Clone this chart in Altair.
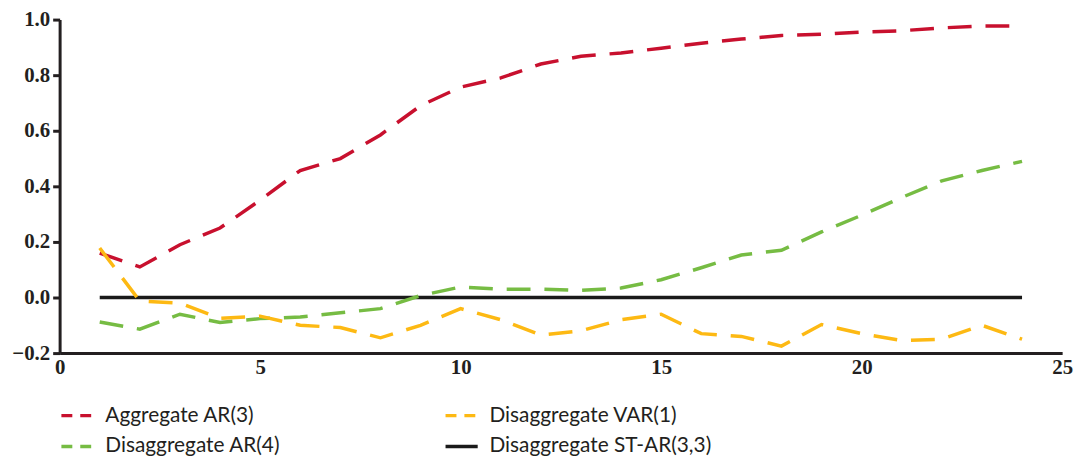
import altair as alt
import pandas as pd

x_vals = list(range(1, 25))
agg_ar3 = [0.16, 0.11, 0.19, 0.25, 0.35, 0.457, 0.50, 0.585, 0.69, 0.757, 0.79, 0.84,
           0.868, 0.88, 0.897, 0.915, 0.93, 0.943, 0.947, 0.955, 0.96, 0.97, 0.977, 0.977]
dis_var1 = [0.178, -0.013, -0.02, -0.075, -0.067, -0.10, -0.108, -0.145, -0.10, -0.04, -0.08, -0.135,
            -0.12, -0.08, -0.06, -0.13, -0.14, -0.175, -0.097, -0.13, -0.155, -0.15, -0.10, -0.15]
dis_ar4 = [-0.088, -0.114, -0.06, -0.09, -0.076, -0.07, -0.055, -0.04, 0.007, 0.038, 0.03, 0.03,
           0.026, 0.034, 0.064, 0.107, 0.153, 0.17, 0.236, 0.296, 0.36, 0.42, 0.457, 0.49]
dis_star = [0.0, 0.0, 0.0, 0.0, 0.0, 0.0, 0.0, 0.0, 0.0, 0.0, 0.0, 0.0,
            0.0, 0.0, 0.0, 0.0, 0.0, 0.0, 0.0, 0.0, 0.0, 0.0, 0.0, 0.0]

# legend fills column by column: AR(3), AR(4) | VAR(1), ST-AR(3,3)
names = ["Aggregate AR(3)", "Disaggregate AR(4)", "Disaggregate VAR(1)", "Disaggregate ST-AR(3,3)"]
colors = ["#C8102E", "#76BC43", "#FDB913", "#1A1A1A"]
long_dash = [[24, 14], [24, 14], [24, 14], [1, 0]]
short_dash = [[11, 8], [11, 8], [11, 8], [1, 0]]

rows = []
# black first so it is drawn underneath
for name, vals in [(names[3], dis_star), (names[0], agg_ar3), (names[1], dis_ar4), (names[2], dis_var1)]:
    for xv, yv in zip(x_vals, vals):
        rows.append({"series": name, "x": xv, "y": yv})
df = pd.DataFrame(rows)

serif = "Liberation Serif"
sans = "Lato"

xenc = alt.X("x:Q", scale=alt.Scale(domain=[0, 25], nice=False),
             axis=alt.Axis(values=[0, 5, 10, 15, 20, 25], format="d", title=None, grid=False,
                           ticks=False, labelFont=serif, labelFontWeight="bold", labelFontSize=21,
                           labelColor="#231f20", domainColor="#231f20", domainWidth=3,
                           labelPadding=4, labelFlush=False))
yenc = alt.Y("y:Q", scale=alt.Scale(domain=[-0.2, 1.0], nice=False),
             axis=alt.Axis(values=[-0.2, 0, 0.2, 0.4, 0.6, 0.8, 1.0], format=".1f", title=None,
                           grid=False, tickSize=7, tickWidth=3, tickColor="#231f20",
                           labelFont=serif, labelFontWeight="bold", labelFontSize=21,
                           labelColor="#231f20", domainColor="#231f20", domainWidth=3,
                           labelPadding=3))

lines = alt.Chart(df).mark_line(strokeWidth=3.5).encode(
    x=xenc,
    y=yenc,
    color=alt.Color("series:N", scale=alt.Scale(domain=names, range=colors), legend=None),
    strokeDash=alt.StrokeDash("series:N", scale=alt.Scale(domain=names, range=long_dash), legend=None),
    detail="series:N",
)

leg = alt.Legend(title=None, orient="none", legendX=0, legendY=381, columns=2,
                 columnPadding=158, rowPadding=3, symbolType="stroke", symbolSize=1050,
                 symbolStrokeWidth=3.5, labelFont=sans, labelFontSize=21, labelColor="#231f20",
                 labelOffset=10, symbolOffset=0, labelLimit=400)

legend_layer = alt.Chart(df).transform_filter("datum.x < 0").mark_line(strokeWidth=3.5).encode(
    x=alt.X("x:Q"),
    y=alt.Y("y:Q"),
    color=alt.Color("series:N", scale=alt.Scale(domain=names, range=colors), legend=leg),
    strokeDash=alt.StrokeDash("series:N", scale=alt.Scale(domain=names, range=short_dash), legend=leg),
)

chart = alt.layer(lines, legend_layer).resolve_scale(
    color="independent", strokeDash="independent"
).properties(
    width=1010, height=336,
    padding={"left": 52, "top": 10, "right": 19, "bottom": 102},
    autosize=alt.AutoSizeParams(type="none"),
).configure_view(stroke=None)

chart.save("out.html", embed_options={"renderer": "svg", "actions": False})
